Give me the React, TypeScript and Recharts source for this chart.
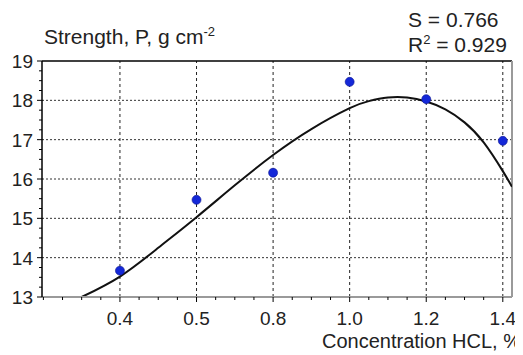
import React from "react";
import { ComposedChart, Line, Scatter, XAxis, YAxis, ReferenceLine } from "recharts";

// Categories on the x axis (evenly spaced) and measured strengths
const categories = ["0.4", "0.5", "0.8", "1.0", "1.2", "1.4"];
const strength = [13.67, 15.47, 16.16, 18.47, 18.03, 16.97];

// Fitted curve, positions are category index units
const fitPositions = [-0.5, 0, 0.5, 1, 1.5, 2, 2.5, 3, 3.25, 3.5, 3.75, 4, 4.25, 4.5, 4.75, 5, 5.12];
const fitValues = [13.0, 13.52, 14.25, 15.03, 15.84, 16.61, 17.27, 17.8, 17.98, 18.07, 18.07, 17.97, 17.77, 17.44, 16.93, 16.2, 15.8];

const yTickLabels = [13, 14, 15, 16, 17, 18, 19];
const gridY = [14, 15, 16, 17, 18];
const statS = "0.766";
const statR2 = "0.929";

const points = categories.map((c, i) => ({ x: i, y: strength[i], label: c }));
const fit = fitPositions.map((x, i) => ({ x, y: fitValues[i] }));

const xTicks: number[] = [];
for (let k = -4; k <= 20; k++) xTicks.push(k / 4);
const yTicks: number[] = [];
for (let k = 13 * 4; k <= 19 * 4; k++) yTicks.push(k / 4);

const FONT = "'Liberation Sans', Arial, sans-serif";
const isInt = (v: number) => Math.abs(v - Math.round(v)) < 1e-6;

const XTick = (props: any) => {
  const { x, y, payload } = props;
  const v = payload.value as number;
  const major = isInt(v) && v >= 0;
  return (
    <g>
      <line x1={x} x2={x} y1={y} y2={y + (major ? 5 : 3)} stroke="#000" strokeWidth={1} />
      {major && (
        <text x={x} y={y + 28} textAnchor="middle" fontSize={19} fontFamily={FONT} fill="#222">
          {categories[Math.round(v)]}
        </text>
      )}
    </g>
  );
};

const YTick = (props: any) => {
  const { x, y, payload } = props;
  const v = payload.value as number;
  const major = isInt(v);
  return (
    <g>
      <line x1={x - (major ? 5 : 3)} x2={x} y1={y} y2={y} stroke="#000" strokeWidth={1} />
      {major && yTickLabels.includes(Math.round(v)) && (
        <text x={x - 9} y={y + 7} textAnchor="end" fontSize={19} fontFamily={FONT} fill="#222">
          {Math.round(v)}
        </text>
      )}
    </g>
  );
};

export default function App() {
  return (
    <div style={{ position: "relative", width: 515, height: 347, fontFamily: FONT }}>
      <ComposedChart
        width={515}
        height={347}
        margin={{ top: 53, right: 11, bottom: 28, left: 0 }}
      >
        <XAxis
          type="number"
          dataKey="x"
          domain={[-1.018, 5.12]}
          allowDataOverflow
          ticks={xTicks}
          interval={0}
          tickSize={0}
          tickMargin={0}
          tickLine={false}
          tick={<XTick />}
          axisLine={{ stroke: "#9a9a9a", strokeWidth: 2 }}
          height={30}
        />
        <YAxis
          type="number"
          dataKey="y"
          domain={[13, 19]}
          allowDataOverflow
          ticks={yTicks}
          interval={0}
          tickSize={0}
          tickMargin={0}
          tickLine={false}
          tick={<YTick />}
          axisLine={{ stroke: "#000", strokeWidth: 1.5 }}
          width={34}
        />
        {gridY.map((g) => (
          <ReferenceLine key={"gy" + g} y={g} stroke="#333" strokeDasharray="2 2" strokeWidth={1} />
        ))}
        {categories.map((c, i) => (
          <ReferenceLine key={"gx" + c} x={i} stroke="#222" strokeDasharray="3 3" strokeWidth={1} />
        ))}
        <ReferenceLine y={19} stroke="#000" strokeWidth={1.5} />
        <ReferenceLine x={5.12} stroke="#9a9a9a" strokeWidth={2} />
        <Line
          data={fit}
          dataKey="y"
          type="natural"
          stroke="#111"
          strokeWidth={2}
          dot={false}
          isAnimationActive={false}
        />
        <Scatter
          data={points}
          dataKey="y"
          fill="#1428d8"
          shape={(p: any) => <circle cx={p.cx} cy={p.cy} r={4.5} fill="#1428d8" stroke="#0a1290" strokeWidth={0.6} />}
          isAnimationActive={false}
        />
      </ComposedChart>
      <svg
        width={515}
        height={347}
        style={{ position: "absolute", left: 0, top: 0, pointerEvents: "none" }}
      >
        <text x={36} y={36} fontSize={21} fontFamily={FONT} fill="#222">
          Strength, P, g cm
          <tspan dy={-8} fontSize={13}>-2</tspan>
        </text>
        <text x={400} y={19} fontSize={21} fontFamily={FONT} fill="#222">
          S = {statS}
        </text>
        <text x={400} y={44} fontSize={21} fontFamily={FONT} fill="#222">
          R
          <tspan dy={-8} fontSize={13}>2</tspan>
          <tspan dy={8}> = {statR2}</tspan>
        </text>
        <text x={513} y={340} textAnchor="end" fontSize={20} fontFamily={FONT} fill="#222">
          Concentration HCL, %
        </text>
      </svg>
    </div>
  );
}
